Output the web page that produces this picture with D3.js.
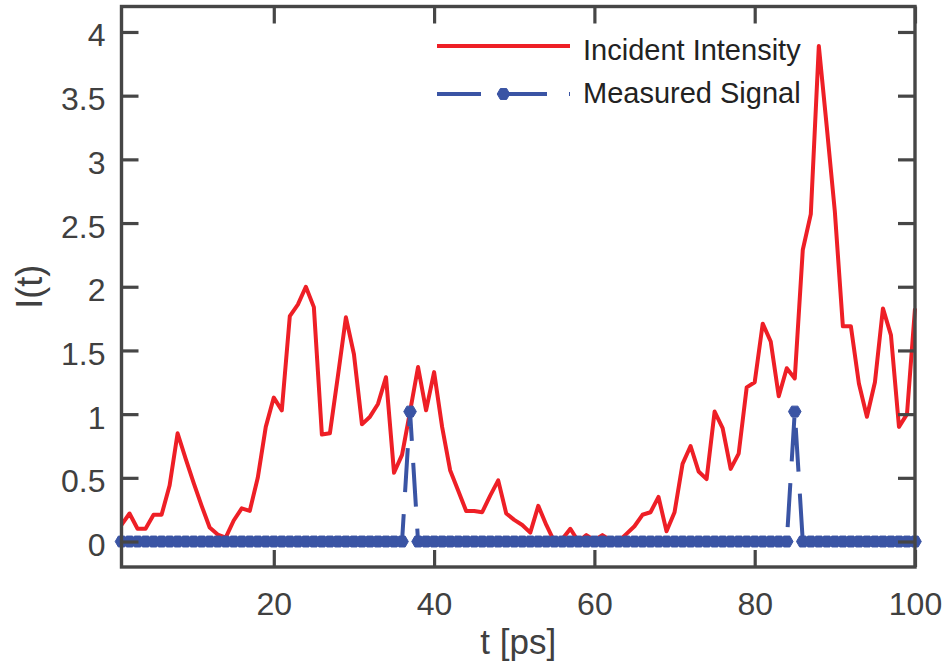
<!DOCTYPE html>
<html>
<head>
<meta charset="utf-8">
<script src="https://cdn.jsdelivr.net/npm/d3@7"></script>
<style>
  html, body { margin: 0; padding: 0; background: #fff; }
  svg { display: block; font-family: "Liberation Sans", Arial, Helvetica, sans-serif; }
</style>
</head>
<body>
<svg id="chart" width="944" height="667"></svg>
<script>
// Time samples (ps)
const times = d3.range(1, 101);

// Incident intensity at each time sample
const incident = [
  0.13, 0.22, 0.10, 0.10, 0.21, 0.21, 0.44, 0.85, 0.65, 0.46,
  0.28, 0.11, 0.055, 0.03, 0.165, 0.26, 0.24, 0.50, 0.90, 1.13,
  1.03, 1.77, 1.86, 2.00, 1.84, 0.84, 0.85, 1.30, 1.76, 1.47,
  0.92, 0.98, 1.08, 1.29, 0.54, 0.68, 1.02, 1.37, 1.03, 1.33,
  0.90, 0.56, 0.40, 0.24, 0.24, 0.23, 0.36, 0.48, 0.22, 0.17,
  0.13, 0.07, 0.28, 0.13, 0.00, 0.02, 0.10, 0.00, 0.05, 0.01,
  0.05, 0.01, 0.00, 0.06, 0.12, 0.21, 0.23, 0.35, 0.08, 0.23,
  0.61, 0.75, 0.55, 0.49, 1.02, 0.89, 0.57, 0.69, 1.21, 1.25,
  1.71, 1.57, 1.14, 1.36, 1.28, 2.29, 2.57, 3.89, 3.25, 2.59,
  1.69, 1.69, 1.24, 0.98, 1.25, 1.83, 1.62, 0.90, 1.00, 1.83
];

// Measured signal: zero everywhere except two detection events
const measuredEvents = [
  { t: 37, value: 1.02 },
  { t: 85, value: 1.02 }
];
const measured = times.map(t => {
  const ev = measuredEvents.find(e => e.t === t);
  return ev ? ev.value : 0;
});

const xTicks = [20, 40, 60, 80, 100];
const yTicks = [0, 0.5, 1, 1.5, 2, 2.5, 3, 3.5, 4];
const seriesNames = ["Incident Intensity", "Measured Signal"];

const RED = "#ee1f26";
const BLUE = "#3a54a4";
const AXIS = "#464646";
const TEXT = "#404040";

const svg = d3.select("#chart");
const plotL = 121.5, plotR = 915, plotT = 6.5, plotB = 567;

const x = d3.scaleLinear().domain([1, 100]).range([plotL, plotR]);
const y = d3.scaleLinear().domain([-0.2, 4.2]).range([plotB, plotT]);

// Data lines
const line = d3.line().x((d, i) => x(times[i])).y(d => y(d));

svg.append("path")
  .datum(incident)
  .attr("d", line)
  .attr("fill", "none")
  .attr("stroke", RED)
  .attr("stroke-width", 4)
  .attr("stroke-linejoin", "round");

svg.append("path")
  .datum(measured)
  .attr("d", line)
  .attr("fill", "none")
  .attr("stroke", BLUE)
  .attr("stroke-width", 4)
  .attr("stroke-dasharray", "44,22");

// Hexagon marker
function hexPath(r) {
  const pts = d3.range(6).map(k => {
    const a = k * Math.PI / 3;
    return [r * Math.cos(a), r * Math.sin(a)];
  });
  return "M" + pts.map(p => p.join(",")).join("L") + "Z";
}
const hex = hexPath(6.3);

svg.append("g")
  .selectAll("path")
  .data(measured)
  .join("path")
  .attr("d", hex)
  .attr("transform", (d, i) => `translate(${x(times[i])},${y(d)})`)
  .attr("fill", BLUE)
  .attr("stroke", BLUE)
  .attr("stroke-width", 1);

// Axes: inward ticks on all four sides
const tickLen = 17;
const styleAxis = g => {
  g.select(".domain").remove();
  g.selectAll(".tick line").attr("stroke", AXIS).attr("stroke-width", 3.2);
};

svg.append("g")
  .attr("transform", `translate(${plotL},0)`)
  .call(d3.axisLeft(y).tickValues(yTicks).tickSizeInner(-tickLen).tickSizeOuter(0).tickFormat(d => String(d)).tickPadding(0))
  .call(styleAxis)
  .call(g => g.selectAll(".tick text")
    .attr("x", -16).attr("dy", null).attr("y", 14)
    .attr("fill", TEXT).attr("font-size", 32)
    .attr("font-family", "Liberation Sans, Arial, Helvetica, sans-serif"));

svg.append("g")
  .attr("transform", `translate(${plotR},0)`)
  .call(d3.axisRight(y).tickValues(yTicks).tickSizeInner(-tickLen).tickSizeOuter(0).tickFormat(""))
  .call(styleAxis);

svg.append("g")
  .attr("transform", `translate(0,${plotB})`)
  .call(d3.axisBottom(x).tickValues(xTicks).tickSizeInner(-tickLen).tickSizeOuter(0).tickFormat(d => String(d)))
  .call(styleAxis)
  .call(g => g.selectAll(".tick text")
    .attr("y", 48).attr("dy", null)
    .attr("fill", TEXT).attr("font-size", 32)
    .attr("font-family", "Liberation Sans, Arial, Helvetica, sans-serif"));

svg.append("g")
  .attr("transform", `translate(0,${plotT})`)
  .call(d3.axisTop(x).tickValues(xTicks).tickSizeInner(-tickLen).tickSizeOuter(0).tickFormat(""))
  .call(styleAxis);

// Box
svg.append("rect")
  .attr("x", plotL).attr("y", plotT)
  .attr("width", plotR - plotL).attr("height", plotB - plotT)
  .attr("fill", "none")
  .attr("stroke", AXIS)
  .attr("stroke-width", 3.4);

// Axis titles
svg.append("text")
  .attr("x", (plotL + plotR) / 2)
  .attr("y", 654)
  .attr("text-anchor", "middle")
  .attr("fill", TEXT)
  .attr("font-size", 35)
  .text("t [ps]");

svg.append("text")
  .attr("transform", `translate(42,${(plotT + plotB) / 2}) rotate(-90)`)
  .attr("text-anchor", "middle")
  .attr("fill", TEXT)
  .attr("font-size", 36)
  .text("I(t)");

// Legend
const legend = svg.append("g");
const lx0 = 437, lx1 = 570, tx = 583;
legend.append("line")
  .attr("x1", lx0).attr("x2", lx1).attr("y1", 46).attr("y2", 46)
  .attr("stroke", RED).attr("stroke-width", 4);
legend.append("line")
  .attr("x1", lx0).attr("x2", lx1).attr("y1", 94).attr("y2", 94)
  .attr("stroke", BLUE).attr("stroke-width", 4)
  .attr("stroke-dasharray", "44,22");
legend.append("path")
  .attr("d", hex)
  .attr("transform", `translate(${(lx0 + lx1) / 2},94)`)
  .attr("fill", BLUE).attr("stroke", BLUE).attr("stroke-width", 1);

legend.selectAll("text.lbl")
  .data(seriesNames)
  .join("text")
  .attr("class", "lbl")
  .attr("x", tx)
  .attr("y", (d, i) => i === 0 ? 60 : 103)
  .attr("fill", "#222")
  .attr("font-size", 29)
  .text(d => d);
</script>
</body>
</html>
